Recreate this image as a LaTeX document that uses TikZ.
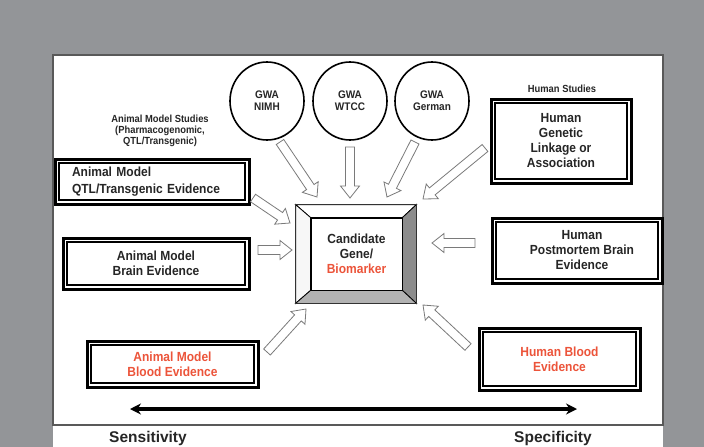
\documentclass[tikz,border=0pt]{standalone}
\usepackage{fontspec}
\setmainfont{Liberation Sans}
\newfontfamily\cfont{Liberation Sans}[FakeStretch=0.91]
\usetikzlibrary{calc,arrows.meta,shapes.geometric}
\definecolor{bggray}{HTML}{939598}
\definecolor{redtxt}{RGB}{236,84,58}
\definecolor{txt}{HTML}{262626}
\definecolor{arrline}{HTML}{7a7a7a}
\newcommand\dframe[1]{%
  \draw[line width=3pt] ($(#1.north west)+(-3.4,-3.4)$) rectangle ($(#1.south east)+(3.4,3.4)$);}
\newcommand\blockarrow[2]{%
  \coordinate (hb) at ($(#2)!12pt!(#1)$);
  \draw[harrow] ($(#1)!4.5pt!90:(#2)$) -- ($(hb)!4.5pt!90:(#2)$) -- ($(hb)!9.5pt!90:(#2)$) -- (#2)
    -- ($(hb)!9.5pt!-90:(#2)$) -- ($(hb)!4.5pt!-90:(#2)$) -- ($(#1)!4.5pt!-90:(#2)$) -- cycle;}
\begin{document}
\begin{tikzpicture}[x=1pt,y=-1pt,
  inbox/.style={draw=black, line width=1.2pt, fill=white, inner sep=0pt, align=center,
    font=\cfont\bfseries\fontsize{13.2}{15}\selectfont, text=txt},
  circ/.style={ellipse, draw=black, line width=1.6pt, fill=white, minimum width=74pt, minimum height=78pt,
    inner sep=0pt, align=center, font=\cfont\bfseries\fontsize{11}{12}\selectfont, text=txt},
  lbl/.style={align=center, inner sep=0pt, font=\cfont\bfseries\fontsize{10.3}{11}\selectfont, text=txt},
  big/.style={inner sep=0pt, font=\bfseries\fontsize{15.5}{18}\selectfont, text=txt},
  harrow/.style={fill=white, draw=arrline, line width=0.8pt, line join=miter}]
\useasboundingbox (0,0) rectangle (704,447);
% background
\fill[bggray] (0,0) rectangle (704,447);
\fill[white] (53,55) rectangle (663,447);
\draw[line width=1.1pt, black!65] (53,55) rectangle (663,425);

% GWA circles
\node[circ] (nimh) at (267,101) {GWA\\NIMH};
\node[circ] (wtcc) at (350,101) {GWA\\WTCC};
\node[circ] (germ) at (432,101) {GWA\\German};

% labels
\node[lbl] (ams) at (160,131) {Animal Model Studies\\(Pharmacogenomic,\\QTL/Transgenic)};
\node[lbl] (hs) at (562,89) {Human Studies};

% boxes
\node[inbox, minimum width=186pt, minimum height=37pt, text width=160pt, align=left,
  font=\cfont\bfseries\fontsize{13.2}{17}\selectfont] (qtl) at (152,181.5) {Animal Model\\QTL/Transgenic Evidence};
\dframe{qtl}
\node[inbox, minimum width=178pt, minimum height=43pt] (brain) at (156,263.5) {Animal Model\\Brain Evidence};
\dframe{brain}
\node[inbox, minimum width=132pt, minimum height=76pt] (hgen) at (561,141) {Human\\Genetic\\Linkage or\\Association};
\dframe{hgen}
\node[inbox, minimum width=162pt, minimum height=57pt] (hpm) at (577,250.5) {\hspace*{10pt}Human\\\hspace*{10pt}Postmortem Brain\\\hspace*{10pt}Evidence};
\dframe{hpm}
\node[inbox, minimum width=163pt, minimum height=38pt, text=redtxt] (ablood) at (172.5,364) {Animal Model\\Blood Evidence};
\dframe{ablood}
\node[inbox, minimum width=153pt, minimum height=54pt, text=redtxt] (hblood) at (559.5,359) {Human Blood\\Evidence};
\dframe{hblood}

% candidate bevel box
\node[draw=black, line width=0.8pt, fill=white, minimum width=91pt, minimum height=72pt, inner sep=0pt,
  align=center, font=\cfont\bfseries\fontsize{13.2}{15}\selectfont, text=txt] (cand) at (356.5,254)
  {Candidate\\Gene/\\\textcolor{redtxt}{Biomarker}};
\coordinate (onw) at ($(cand.north west)+(-15,-13)$);
\coordinate (one) at ($(cand.north east)+(14,-13)$);
\coordinate (osw) at ($(cand.south west)+(-15,13)$);
\coordinate (ose) at ($(cand.south east)+(14,13)$);
\draw[line width=0.8pt, fill=white] (onw) -- (one) -- (cand.north east) -- (cand.north west) -- cycle;
\draw[line width=0.8pt, fill=black!3] (onw) -- (cand.north west) -- (cand.south west) -- (osw) -- cycle;
\draw[line width=0.8pt, fill=black!45] (one) -- (ose) -- (cand.south east) -- (cand.north east) -- cycle;
\draw[line width=0.8pt, fill=black!30] (osw) -- (ose) -- (cand.south east) -- (cand.south west) -- cycle;
\draw[line width=1.2pt, black!80] (onw) rectangle (ose);

% block arrows
\coordinate (a1t) at (280,142); \coordinate (a1h) at (317,197);
\coordinate (a2t) at (350,147); \coordinate (a2h) at (350,198);
\coordinate (a3t) at (415,142); \coordinate (a3h) at (387,197);
\coordinate (a4t) at (485,148); \coordinate (a4h) at (423,199);
\coordinate (a5t) at (253,198); \coordinate (a5h) at (290,223);
\coordinate (a6t) at (258,250); \coordinate (a6h) at (292,250);
\coordinate (a7t) at (475,243); \coordinate (a7h) at (432,243);
\coordinate (a8t) at (267,352); \coordinate (a8h) at (306,309);
\coordinate (a9t) at (468,347); \coordinate (a9h) at (423,305);
\blockarrow{a1t}{a1h}
\blockarrow{a2t}{a2h}
\blockarrow{a3t}{a3h}
\blockarrow{a4t}{a4h}
\blockarrow{a5t}{a5h}
\blockarrow{a6t}{a6h}
\blockarrow{a7t}{a7h}
\blockarrow{a8t}{a8h}
\blockarrow{a9t}{a9h}

% sensitivity-specificity axis
\coordinate (sL) at (130,409);
\coordinate (sR) at (577,409);
\draw[line width=3.2pt, {Stealth[length=11pt,width=11pt]}-{Stealth[length=11pt,width=11pt]}] (sL) -- (sR);
\node[big] (sens) at (148,438) {Sensitivity};
\node[big] (spec) at (553,438) {Specificity};
\end{tikzpicture}
\end{document}
